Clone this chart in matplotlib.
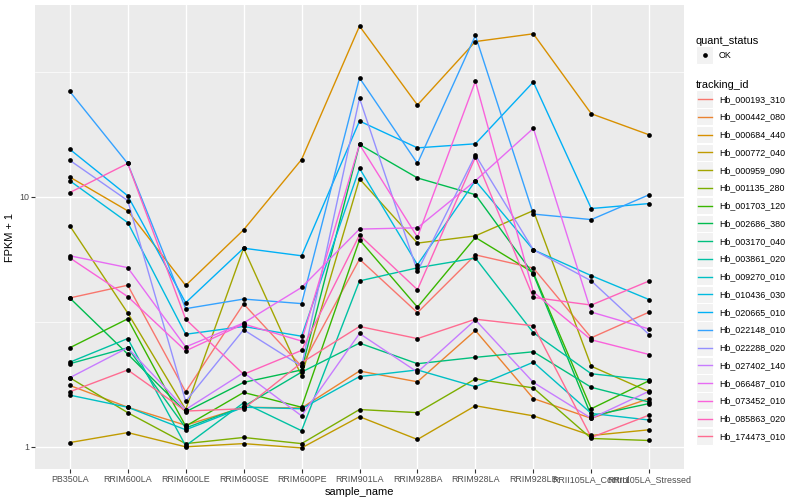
import numpy as np
import matplotlib
matplotlib.use("Agg")
import matplotlib.pyplot as plt
from matplotlib.lines import Line2D
from matplotlib.patches import Rectangle
from matplotlib.legend_handler import HandlerBase

plt.rcParams['font.family'] = ['Liberation Sans', 'DejaVu Sans']

samples = ["PB350LA", "RRIM600LA", "RRIM600LE", "RRIM600SE", "RRIM600PE",
           "RRIM901LA", "RRIM928BA", "RRIM928LA", "RRIM928LB",
           "RRII105LA_Control", "RRII105LA_Stressed"]

tracking_ids = ["Hb_000193_310", "Hb_000442_080", "Hb_000684_440", "Hb_000772_040",
                "Hb_000959_090", "Hb_001135_280", "Hb_001703_120", "Hb_002686_380",
                "Hb_003170_040", "Hb_003861_020", "Hb_009270_010", "Hb_010436_030",
                "Hb_020665_010", "Hb_022148_010", "Hb_022288_020", "Hb_027402_140",
                "Hb_066487_010", "Hb_073452_010", "Hb_085863_020", "Hb_174473_010"]

colors = ["#F8766D", "#EA8331", "#D89000", "#C09B00", "#A3A500", "#7CAE00",
          "#39B600", "#00BB4E", "#00BF7D", "#00C1A3", "#00BFC4", "#00BAE0",
          "#00B0F6", "#35A2FF", "#9590FF", "#C77CFF", "#E76BF3", "#FA62DB",
          "#FF62BC", "#FF6C91"]

# FPKM + 1 per sample (order of `samples`)
Hb_000193_310 = [3.94, 4.43, 1.66, 3.73, 2.10, 5.63, 3.44, 5.86, 5.19, 2.73, 3.46]
Hb_000442_080 = [1.76, 1.44, 1.22, 1.44, 1.43, 2.01, 1.82, 2.92, 1.56, 1.30, 1.56]
Hb_000684_440 = [12.0, 8.79, 4.42, 7.38, 14.1, 48.2, 23.3, 41.8, 44.9, 21.5, 17.7]
Hb_000772_040 = [1.04, 1.14, 1.00, 1.03, 0.99, 1.32, 1.07, 1.46, 1.33, 1.11, 1.17]
Hb_000959_090 = [7.66, 3.43, 1.41, 6.23, 1.92, 11.8, 6.53, 6.98, 8.81, 2.10, 1.66]
Hb_001135_280 = [1.89, 1.37, 1.03, 1.09, 1.03, 1.41, 1.37, 1.87, 1.72, 1.08, 1.06]
Hb_001703_120 = [2.49, 3.25, 1.21, 1.65, 1.44, 6.73, 3.62, 6.88, 4.97, 1.42, 1.84]
Hb_002686_380 = [3.94, 2.35, 1.38, 1.81, 2.03, 16.2, 11.9, 10.2, 4.91, 1.33, 1.49]
Hb_003170_040 = [2.15, 2.49, 1.19, 1.45, 1.99, 2.60, 2.15, 2.28, 2.40, 1.73, 1.51]
Hb_003861_020 = [2.18, 2.71, 1.01, 1.50, 1.16, 4.61, 5.20, 5.69, 2.86, 1.96, 1.85]
Hb_009270_010 = [1.61, 1.44, 1.17, 1.44, 1.42, 1.91, 2.03, 1.74, 2.18, 1.36, 1.28]
Hb_010436_030 = [11.6, 7.89, 2.82, 3.03, 2.77, 13.0, 5.35, 11.6, 6.14, 4.84, 3.88]
Hb_020665_010 = [15.5, 10.1, 3.77, 6.23, 5.81, 20.1, 15.7, 16.3, 28.8, 8.98, 9.40]
Hb_022148_010 = [26.4, 13.6, 3.57, 3.90, 3.74, 29.9, 13.6, 44.2, 8.53, 8.11, 10.2]
Hb_022288_020 = [14.0, 9.66, 1.52, 2.94, 2.10, 24.8, 5.03, 14.7, 6.14, 4.61, 2.81]
Hb_027402_140 = [1.89, 2.49, 1.41, 1.98, 1.33, 2.84, 1.99, 3.22, 1.81, 1.30, 1.67]
Hb_066487_010 = [5.81, 5.21, 2.51, 3.13, 4.34, 7.43, 7.52, 11.6, 18.8, 3.46, 2.96]
Hb_073452_010 = [5.70, 3.99, 2.42, 3.10, 2.65, 16.2, 6.90, 29.0, 4.16, 2.68, 2.34]
Hb_085863_020 = [10.4, 13.6, 3.24, 1.95, 2.43, 7.03, 4.25, 14.4, 3.96, 3.69, 4.61]
Hb_174473_010 = [1.66, 2.03, 1.39, 1.42, 2.17, 3.03, 2.71, 3.24, 3.05, 1.09, 1.34]

series = [Hb_000193_310, Hb_000442_080, Hb_000684_440, Hb_000772_040, Hb_000959_090,
          Hb_001135_280, Hb_001703_120, Hb_002686_380, Hb_003170_040, Hb_003861_020,
          Hb_009270_010, Hb_010436_030, Hb_020665_010, Hb_022148_010, Hb_022288_020,
          Hb_027402_140, Hb_066487_010, Hb_073452_010, Hb_085863_020, Hb_174473_010]

DPI = 100
fig = plt.figure(figsize=(8, 5), dpi=DPI)
ax = fig.add_axes([35 / 800, 1 - 469 / 500, (684 - 35) / 800, (469 - 5) / 500])
ax.set_facecolor("#EBEBEB")

x = np.arange(1, len(samples) + 1)
handles = []
for name, col, vals in zip(tracking_ids, colors, series):
    h, = ax.plot(x, vals, color=col, lw=1.0, zorder=2, label=name)
    handles.append(h)
for vals in series:
    ax.plot(x, vals, ls="none", marker="o", ms=3.4, mfc="black", mec="black",
            mew=0, zorder=3)

ax.set_yscale("log")
allv = np.log10(np.concatenate([np.asarray(s) for s in series]))
lo, hi = allv.min(), allv.max()
pad = 0.05 * (hi - lo)
ax.set_ylim(10 ** (lo - pad), 10 ** (hi + pad))
ax.set_xlim(0.4, len(samples) + 0.6)

ax.set_yticks([1, 10])
ax.set_yticklabels(["1", "10"])
ax.set_yticks([10 ** 0.5, 10 ** 1.5], minor=True)
ax.yaxis.set_minor_formatter(matplotlib.ticker.NullFormatter())
ax.set_xticks(x)
ax.set_xticklabels(samples)

ax.grid(which="major", color="white", lw=1.0, zorder=0)
ax.grid(which="minor", axis="y", color="white", lw=0.5, zorder=0)
ax.set_axisbelow(True)
for s in ax.spines.values():
    s.set_visible(False)
ax.tick_params(which="major", length=2.6, width=0.8, color="#333333",
               labelsize=6.4, labelcolor="#4D4D4D", pad=1.6)
ax.tick_params(which="minor", length=0)

ax.set_xlabel("sample_name", fontsize=7.9, labelpad=2.5)
ax.set_ylabel("FPKM + 1", fontsize=7.9, labelpad=3)


class KeyHandler(HandlerBase):
    def __init__(self, kind):
        super().__init__()
        self.kind = kind

    def create_artists(self, legend, orig_handle, xdescent, ydescent, width,
                       height, fontsize, trans):
        r = Rectangle((-xdescent, -ydescent), width, height, facecolor="#F2F2F2",
                      edgecolor="white", lw=0.8, transform=trans)
        cy = -ydescent + height / 2
        if self.kind == "line":
            a = Line2D([-xdescent + 0.1 * width, -xdescent + 0.9 * width], [cy, cy],
                       color=orig_handle.get_color(), lw=1.0, transform=trans)
        else:
            a = Line2D([-xdescent + width / 2], [cy], marker="o", ms=3.4, ls="none",
                       color="black", mew=0, transform=trans)
        return [r, a]


leg_kw = dict(loc="upper left", bbox_transform=fig.transFigure, frameon=False,
              borderpad=0, borderaxespad=0, fontsize=6.4, title_fontsize=7.9,
              handlelength=1.96, handleheight=2.61, labelspacing=0.055,
              handletextpad=0.6, alignment="left")

ok_handle = Line2D([], [], marker="o", color="black", ls="none")
leg1 = ax.legend([ok_handle], ["OK"], title="quant_status",
                 bbox_to_anchor=(696 / 800, 1 - 36 / 500),
                 handler_map={ok_handle: KeyHandler("point")}, **leg_kw)
ax.add_artist(leg1)
leg2 = ax.legend(handles, tracking_ids, title="tracking_id",
                 bbox_to_anchor=(696 / 800, 1 - 80 / 500),
                 handler_map={h: KeyHandler("line") for h in handles}, **leg_kw)

fig.savefig("out.png", dpi=DPI)
